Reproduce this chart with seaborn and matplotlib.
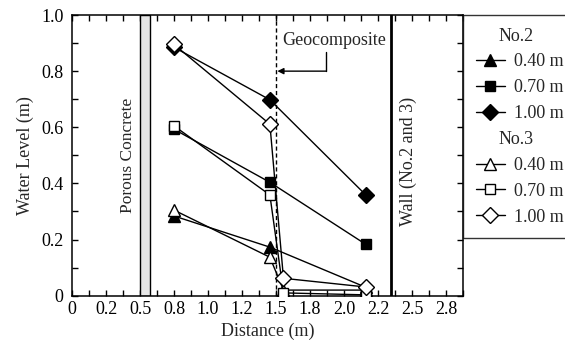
import numpy as np
import pandas as pd
import seaborn as sns
import matplotlib.pyplot as plt
from matplotlib.lines import Line2D
from matplotlib.patches import Rectangle

# distances (m) and water levels (m)
x_no2 = [0.75, 1.455, 2.16]
x_no3 = [0.75, 1.455, 1.555, 2.16]

no2_040 = [0.284, 0.173, 0.03]
no2_070 = [0.593, 0.404, 0.183]
no2_100 = [0.885, 0.698, 0.359]

no3_040 = [0.305, 0.137, 0.02, 0.02]
no3_070 = [0.605, 0.359, 0.01, 0.003]
no3_100 = [0.895, 0.611, 0.062, 0.031]

xtick_vals = np.arange(0, 2.76, 0.25)
xtick_labels = ['0', '0.2', '0.5', '0.8', '1.0', '1.2', '1.5', '1.8', '2.0', '2.2', '2.5', '2.8']
ytick_vals = [0, 0.2, 0.4, 0.6, 0.8, 1.0]
ytick_labels = ['0', '0.2', '0.4', '0.6', '0.8', '1.0']

porous = (0.497, 0.576)
geocomposite_x = 1.5
wall_x = 2.344

sns.set_style('ticks')
plt.rcParams['font.family'] = ['Liberation Serif', 'DejaVu Serif']

fs = 13

fig = plt.figure(figsize=(5.65, 3.47), dpi=100)
ax = fig.add_axes([72 / 565, 51.3 / 347, 391 / 565, 280.7 / 347])

series = [
    (x_no2, no2_040, '^', 'black', 8, '0.40 m'),
    (x_no2, no2_070, 's', 'black', 7, '0.70 m'),
    (x_no2, no2_100, 'D', 'black', 8, '1.00 m'),
    (x_no3, no3_040, '^', 'white', 8, '0.40 m'),
    (x_no3, no3_070, 's', 'white', 7, '0.70 m'),
    (x_no3, no3_100, 'D', 'white', 8, '1.00 m'),
]
handles = []
for xs, ys, mk, fc, ms, lab in series:
    df = pd.DataFrame({'x': xs, 'y': ys})
    sns.lineplot(data=df, x='x', y='y', ax=ax, color='black', lw=1.0,
                 marker=mk, markersize=ms, markerfacecolor=fc,
                 markeredgecolor='black', markeredgewidth=1.0, zorder=5)
    handles.append(Line2D([], [], color='black', lw=1.0, marker=mk, markersize=ms,
                          markerfacecolor=fc, markeredgecolor='black', label=lab))

# porous concrete, geocomposite and wall
ax.add_patch(Rectangle((porous[0], 0), porous[1] - porous[0], 1, facecolor='#e6e6e6',
                       edgecolor='black', lw=1.0, zorder=2))
ax.axvline(geocomposite_x, color='black', lw=1.0, ls=(0, (3, 2)), zorder=3)
ax.axvline(wall_x, color='black', lw=2.0, zorder=3)

ax.text(0.415, 0.50, 'Porous Concrete', rotation=90, ha='center', va='center', fontsize=12.5)
ax.text(2.47, 0.477, 'Wall (No.2 and 3)', rotation=90, ha='center', va='center', fontsize=fs)
ax.text(1.549, 0.909, 'Geocomposite', ha='left', va='center', fontsize=fs)
ax.plot([1.871, 1.871], [0.868, 0.80], color='black', lw=1.0)
ax.annotate('', xy=(1.51, 0.80), xytext=(1.871, 0.80),
            arrowprops=dict(arrowstyle='-|>', color='black', lw=1.0,
                            mutation_scale=9, shrinkA=0, shrinkB=0))

ax.set_xlim(0, 2.817)
ax.set_ylim(0, 1.0)
ax.set_xticks(xtick_vals)
ax.set_xticklabels(xtick_labels)
ax.set_xticks(xtick_vals + 0.125, minor=True)
ax.set_yticks(ytick_vals)
ax.set_yticklabels(ytick_labels)
ax.set_yticks(np.arange(0.1, 1.0, 0.2), minor=True)
ax.tick_params(which='both', direction='in', top=True, right=True, length=4.5,
               width=1.0, labelsize=fs, colors='black')
ax.tick_params(axis='x', pad=4)
ax.tick_params(axis='y', pad=6)
for sp in ax.spines.values():
    sp.set_linewidth(1.1)
    sp.set_color('black')

ax.set_xlabel('Distance (m)', fontsize=fs, labelpad=3)
ax.set_ylabel('Water Level (m)', fontsize=fs, labelpad=5)

head2 = Line2D([], [], linestyle='none', label='No.2')
head3 = Line2D([], [], linestyle='none', label='No.3')
leg = ax.legend(handles=[head2] + handles[:3] + [head3] + handles[3:],
                loc='upper left', bbox_to_anchor=(1.0, 1.0), borderaxespad=0,
                frameon=True, fancybox=False, edgecolor='black', fontsize=fs,
                handlelength=1.6, handletextpad=0.55, labelspacing=0.49,
                borderpad=0.7)
leg.get_frame().set_linewidth(1.0)
for t in leg.get_texts():
    if t.get_text().startswith('No.'):
        t.set_x(-16)

fig.savefig('out.png', dpi=100)
